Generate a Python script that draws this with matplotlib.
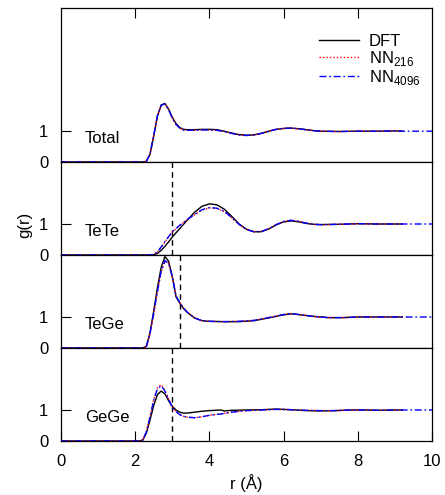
import numpy as np
import matplotlib.pyplot as plt

plt.rcParams['font.family'] = ['Liberation Sans', 'DejaVu Sans']
plt.rcParams['font.size'] = 12

# --- data (r in Angstrom, g(r)) ---
r_total = [0, 2.2, 2.3, 2.4, 2.5, 2.6, 2.7, 2.8, 2.9, 3.0, 3.1, 3.2, 3.3, 3.4, 3.6, 3.8,
           4.0, 4.2, 4.4, 4.6, 4.8, 5.0, 5.2, 5.4, 5.6, 5.8, 6.0, 6.2, 6.4, 6.6, 6.8,
           7.0, 7.5, 8.0, 8.5, 9.0, 9.2]
total_dft = [0, 0, 0.02, 0.25, 0.85, 1.5, 1.85, 1.9, 1.72, 1.45, 1.25, 1.12, 1.06, 1.05, 1.05, 1.06,
             1.06, 1.05, 1.0, 0.94, 0.89, 0.87, 0.88, 0.93, 1.0, 1.06, 1.09, 1.1, 1.08, 1.05, 1.02,
             1.0, 0.99, 1.0, 1.0, 1.01, 1.0]
total_nn216 = [0, 0, 0.02, 0.26, 0.87, 1.5, 1.84, 1.89, 1.7, 1.42, 1.22, 1.1, 1.04, 1.03, 1.03, 1.04,
               1.04, 1.03, 0.99, 0.93, 0.88, 0.86, 0.88, 0.93, 1.0, 1.06, 1.09, 1.1, 1.08, 1.05, 1.02,
               1.0, 0.99, 1.0, 1.0, 1.01, 1.0]
total_nn4096 = total_nn216 + [1.0, 1.0]

r_tete = [0, 2.4, 2.5, 2.6, 2.7, 2.8, 2.9, 3.0, 3.2, 3.4, 3.6, 3.8, 4.0, 4.2, 4.4, 4.6, 4.8,
          5.0, 5.2, 5.4, 5.6, 5.8, 6.0, 6.2, 6.4, 6.6, 6.8, 7.0, 7.5, 8.0, 8.5, 9.0, 9.2]
tete_dft = [0, 0, 0.01, 0.05, 0.15, 0.28, 0.42, 0.58, 0.85, 1.12, 1.38, 1.57, 1.65, 1.62, 1.48, 1.25, 1.0,
            0.83, 0.75, 0.75, 0.84, 0.97, 1.07, 1.1, 1.07, 1.02, 0.99, 0.98, 0.99, 1.01, 1.0, 1.0, 1.0]
tete_nn216 = [0, 0, 0.02, 0.1, 0.25, 0.42, 0.58, 0.74, 0.95, 1.13, 1.3, 1.45, 1.52, 1.5, 1.4, 1.2, 0.98,
              0.82, 0.75, 0.76, 0.85, 0.98, 1.08, 1.12, 1.09, 1.03, 0.99, 0.98, 0.99, 1.01, 1.0, 1.0, 1.0]
tete_nn4096 = [0, 0, 0.02, 0.1, 0.26, 0.43, 0.59, 0.75, 0.96, 1.14, 1.31, 1.46, 1.53, 1.51, 1.41, 1.21, 0.99,
               0.82, 0.75, 0.76, 0.85, 0.98, 1.08, 1.12, 1.09, 1.03, 0.99, 0.98, 0.99, 1.01, 1.0, 1.0, 1.0,
               1.0, 1.0]

r_tege = [0, 2.2, 2.3, 2.4, 2.5, 2.6, 2.7, 2.8, 2.9, 3.0, 3.1, 3.2, 3.3, 3.4, 3.6, 3.8, 4.0,
          4.4, 4.8, 5.2, 5.6, 6.0, 6.2, 6.4, 6.8, 7.2, 7.6, 8.0, 8.5, 9.0, 9.2]
tege_dft = [0, 0, 0.05, 0.5, 1.2, 1.95, 2.6, 2.95, 2.8, 2.3, 1.65, 1.45, 1.28, 1.15, 0.97, 0.88, 0.86,
            0.85, 0.85, 0.88, 0.97, 1.07, 1.1, 1.08, 1.02, 0.98, 0.98, 1.0, 1.0, 1.0, 1.0]
tege_nn216 = [0, 0, 0.04, 0.45, 1.1, 1.8, 2.45, 2.8, 2.72, 2.3, 1.68, 1.47, 1.3, 1.16, 0.97, 0.88, 0.86,
              0.85, 0.86, 0.89, 0.98, 1.08, 1.11, 1.08, 1.02, 0.98, 0.98, 1.0, 1.0, 1.0, 1.0]
tege_nn4096 = [0, 0, 0.05, 0.47, 1.13, 1.83, 2.48, 2.82, 2.73, 2.3, 1.68, 1.47, 1.3, 1.16, 0.97, 0.88, 0.86,
               0.85, 0.86, 0.89, 0.98, 1.08, 1.11, 1.08, 1.02, 0.98, 0.98, 1.0, 1.0, 1.0, 1.0, 1.0, 1.0]

r_gege = [0, 2.1, 2.2, 2.3, 2.4, 2.5, 2.6, 2.7, 2.8, 2.9, 3.0, 3.1, 3.2, 3.3, 3.4, 3.6, 3.8, 4.0,
          4.3, 4.4, 4.6, 5.0, 5.4, 5.8, 6.2, 6.6, 7.0, 7.4, 7.8, 8.2, 8.6, 9.0, 9.2]
gege_dft = [0, 0, 0.02, 0.25, 0.68, 1.15, 1.5, 1.61, 1.52, 1.3, 1.12, 1.0, 0.93, 0.9, 0.9, 0.93, 0.96, 0.98,
            1.0, 0.97, 0.99, 1.0, 1.01, 1.03, 1.01, 0.98, 0.97, 0.98, 1.0, 1.0, 0.99, 1.0, 1.0]
gege_nn216 = [0, 0, 0.03, 0.3, 0.8, 1.35, 1.72, 1.82, 1.64, 1.36, 1.1, 0.95, 0.85, 0.8, 0.77, 0.75, 0.78, 0.83,
              0.87, 0.89, 0.93, 0.98, 1.0, 1.02, 1.01, 0.99, 0.98, 0.98, 1.0, 1.0, 0.99, 1.0, 1.0]
gege_nn4096 = [0, 0, 0.03, 0.29, 0.78, 1.32, 1.68, 1.78, 1.61, 1.34, 1.09, 0.95, 0.85, 0.8, 0.77, 0.75, 0.78, 0.83,
               0.87, 0.89, 0.93, 0.98, 1.0, 1.02, 1.01, 0.99, 0.98, 0.98, 1.0, 1.0, 0.99, 1.0, 1.0, 1.0, 1.0]

r_tail = [9.6, 10.0]
panel_names = ['Total', 'TeTe', 'TeGe', 'GeGe']
cutoffs = [None, 3.0, 3.22, 3.0]

panels = [
    (r_total, total_dft, total_nn216, total_nn4096),
    (r_tete, tete_dft, tete_nn216, tete_nn4096),
    (r_tege, tege_dft, tege_nn216, tege_nn4096),
    (r_gege, gege_dft, gege_nn216, gege_nn4096),
]

W, H = 445, 495
fig = plt.figure(figsize=(W / 100, H / 100), dpi=100)
left, right = 61 / W, 432 / W
# panel pixel extents (top, bottom)
extents = [(8, 162), (162, 255), (255, 348), (348, 441)]
ylims = [5.0, 3.0, 3.0, 3.0]

for i, (ext, data) in enumerate(zip(extents, panels)):
    top, bot = ext
    ax = fig.add_axes([left, (H - bot) / H, right - left, (bot - top) / H])
    r, dft, nn216, nn4096 = data
    ax.plot(r, dft, color='black', lw=1.0, label='DFT', zorder=3)
    ax.plot(r, nn216, color='red', lw=1.0, ls=(0, (1, 1.5)), label=r'NN$_\mathregular{216}$', zorder=4)
    ax.plot(list(r) + r_tail, nn4096, color='blue', lw=1.0, ls=(0, (5, 2, 1.2, 2)),
            label=r'NN$_\mathregular{4096}$', zorder=5)
    if cutoffs[i] is not None:
        ax.axvline(cutoffs[i], color='black', ls=(0, (4, 3)), lw=1.0, zorder=2)
    ax.set_xlim(0, 10)
    ax.set_ylim(0, ylims[i])
    ax.set_yticks([0, 1])
    ax.tick_params(axis='y', direction='in', length=7, width=0.8, right=False, pad=9)
    if i == 0:
        ax.set_xticks([2, 4, 6, 8])
        ax.tick_params(axis='x', direction='in', length=7, width=0.8, top=True, bottom=False,
                       labelbottom=False)
        ax.legend(loc='upper right', bbox_to_anchor=(1.0, 0.91), frameon=False,
                  handlelength=2.4, handletextpad=0.6, labelspacing=0.0, borderpad=0.2,
                  fontsize=12)
    elif i == 3:
        ax.set_xticks([0, 2, 4, 6, 8, 10])
        ax.tick_params(axis='x', direction='in', length=7, width=0.8, top=False, pad=9)
        ax.set_xlabel('r (Å)', labelpad=4)
    else:
        ax.set_xticks([])
    ax.text(0.65, 0.75, panel_names[i], ha='left', va='center', fontsize=12)
    for s in ax.spines.values():
        s.set_linewidth(0.9)

fig.text(25 / W, 1 - 225 / H, 'g(r)', rotation=90, ha='center', va='center', fontsize=12)

fig.savefig('out.png', dpi=100)
